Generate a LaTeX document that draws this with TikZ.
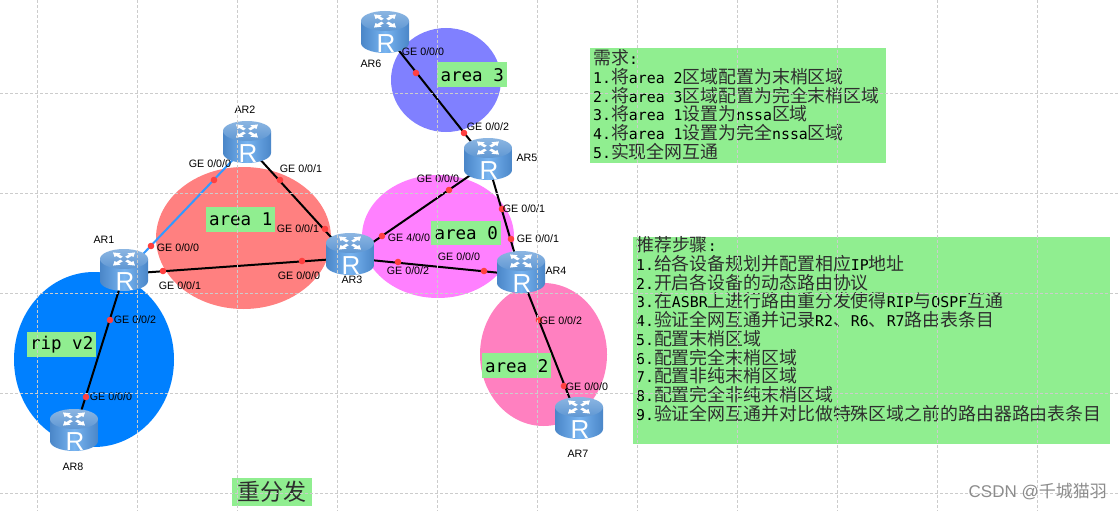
\documentclass[tikz,border=0pt]{standalone}
\usepackage{fontspec}
\setmainfont{Liberation Sans}
\newfontfamily\zhf{Noto Sans CJK SC}
\newfontfamily\monof{DejaVu Sans Mono}
\newcommand{\zh}[1]{{\color{black!82}\zhf\fontsize{17.9}{19}\selectfont #1}}
\newcommand{\msp}{\hspace*{8.94pt}}
\tikzset{
  x=1pt,y=-1pt,
  gridline/.style={draw=black!20,dash pattern=on 3pt off 2pt,line width=0.7pt},
  area/.style={ellipse,draw=none,inner sep=0pt},
  greenbox/.style={fill=boxgreen,draw=none,inner sep=0pt,anchor=north west},
  arealabel/.style={greenbox,font=\monof\fontsize{17.5}{19}\selectfont,align=center},
  listbox/.style={greenbox,font=\monof\fontsize{14.85}{18.75}\selectfont,align=left},
  routerbox/.style={circle,draw=none,inner sep=0pt,minimum size=0pt},
  link/.style={draw=black,line width=2pt},
  bluelink/.style={draw=linkblue,line width=2pt},
  portdot/.style={circle,fill=dotred,draw=none,inner sep=0pt,minimum size=6.6pt},
  portlabel/.style={font=\fontsize{10.7}{12}\selectfont,text=black,inner sep=0pt},
  routericon/.pic={
    \shade[left color=rdark,right color=rdark,middle color=rlight]
      (-24,-11) -- (-24,11) arc[start angle=180,end angle=0,x radius=24,y radius=10] -- (24,-11) -- cycle;
    \shade[top color=rtopa,bottom color=rtopb]
      (0,-11) ellipse[x radius=24,y radius=10];
    \foreach \a in {45,135,225,315}{
      \begin{scope}[shift={(0,-11)},yscale=0.6,rotate=\a]
        \fill[white] (3.5,-1.8) -- (9,-1.8) -- (9,-4.4) -- (15.5,0) -- (9,4.4) -- (9,1.8) -- (3.5,1.8) -- cycle;
      \end{scope}
    }
    \node[text=white,inner sep=0pt,font=\fontsize{26}{26}\selectfont] at (1,11.5) {R};
  }
}
\definecolor{boxgreen}{HTML}{90EE90}
\definecolor{dotred}{HTML}{FF4040}
\definecolor{linkblue}{HTML}{3399FF}
\definecolor{rdark}{HTML}{4A86C8}
\definecolor{rlight}{HTML}{78B4F0}
\definecolor{rtopa}{HTML}{8CB6E2}
\definecolor{rtopb}{HTML}{5F97D3}
\definecolor{areaone}{HTML}{FF8080}
\definecolor{ripblue}{HTML}{0080FF}
\definecolor{areathree}{HTML}{8080FF}
\definecolor{areazero}{HTML}{FF80FF}
\definecolor{areatwo}{HTML}{FF80C0}
\usetikzlibrary{shapes.geometric}
\begin{document}
\begin{tikzpicture}
\useasboundingbox (0,0) rectangle (1119,511);
\fill[white] (0,0) rectangle (1119,511);

% areas
\node[area,fill=areaone,minimum width=175pt,minimum height=142pt] (a1) at (243.5,238) {};
\node[area,fill=ripblue,minimum width=160pt,minimum height=175pt] (rip) at (94,359.5) {};
\node[area,fill=areathree,minimum width=110pt,minimum height=104pt] (a3) at (446,80) {};
\node[area,fill=areazero,minimum width=152pt,minimum height=123pt] (a0) at (438,236.5) {};
\node[area,fill=areatwo,minimum width=127pt,minimum height=143pt] (a2) at (543.5,354.5) {};

% routers (anchors)
\node[routerbox] (AR1) at (124,274) {};
\node[routerbox] (AR2) at (247,145) {};
\node[routerbox] (AR3) at (350,258) {};
\node[routerbox] (AR4) at (521,275) {};
\node[routerbox] (AR5) at (488,163) {};
\node[routerbox] (AR6) at (385,33) {};
\node[routerbox] (AR7) at (579,422) {};
\node[routerbox] (AR8) at (74,434) {};

% links
\draw[bluelink] (AR1.center) -- (AR2.center);
\draw[link] (AR1.center) -- (AR3.center);
\draw[link] (AR2.center) -- (AR3.center);
\draw[link] (AR1.center) -- (AR8.center);
\draw[link] (AR3.center) -- (AR4.center);
\draw[link] (AR3.center) -- (AR5.center);
\draw[link] (AR4.center) -- (AR5.center);
\draw[link] (AR5.center) -- (AR6.center);
\draw[link] (AR4.center) -- (AR7.center);

% router icons
\foreach \n/\xx/\yy in {AR1/124/270,AR2/247/142,AR3/350/254,AR4/521/272,AR5/488/159,AR6/385/32,AR7/579/418,AR8/74/430}{
  \pic at (\xx,\yy) {routericon};
}

% port dots
\foreach \i/\xx/\yy in {1/214/180,2/280/180,3/325/229,4/151/246,5/163/271,6/302/261,7/110/320,8/86/397,9/416/73,10/464/133,11/449/190,12/382/236,13/502/209,14/511/239,15/398/262,16/484/271,17/539/320,18/564/386}{
  \node[portdot] (d\i) at (\xx,\yy) {};
}

% port labels
\node[portlabel] (l1) at (210,164) {GE 0/0/0};
\node[portlabel] (l2) at (301,169) {GE 0/0/1};
\node[portlabel] (l3) at (298,229) {GE 0/0/1};
\node[portlabel] (l4) at (178,248) {GE 0/0/0};
\node[portlabel] (l5) at (180,286) {GE 0/0/1};
\node[portlabel] (l6) at (299,276) {GE 0/0/0};
\node[portlabel] (l7) at (135,320) {GE 0/0/2};
\node[portlabel] (l8) at (111,397) {GE 0/0/0};
\node[portlabel] (l9) at (423,52) {GE 0/0/0};
\node[portlabel] (l10) at (488,127) {GE 0/0/2};
\node[portlabel] (l11) at (438,179) {GE 0/0/0};
\node[portlabel] (l12) at (524,209) {GE 0/0/1};
\node[portlabel] (l13) at (538,239) {GE 0/0/1};
\node[portlabel] (l14) at (409,238) {GE 4/0/0};
\node[portlabel] (l15) at (408,271) {GE 0/0/2};
\node[portlabel] (l16) at (459,257) {GE 0/0/0};
\node[portlabel] (l17) at (561,321) {GE 0/0/2};
\node[portlabel] (l18) at (587,387) {GE 0/0/0};

% router names
\node[portlabel] (n1) at (104,240) {AR1};
\node[portlabel] (n2) at (245,110) {AR2};
\node[portlabel] (n3) at (352,280) {AR3};
\node[portlabel] (n4) at (556,271) {AR4};
\node[portlabel] (n5) at (527,158) {AR5};
\node[portlabel] (n6) at (371,64) {AR6};
\node[portlabel] (n7) at (578,454) {AR7};
\node[portlabel] (n8) at (73,467) {AR8};

% area labels
\node[arealabel,minimum width=69pt,minimum height=25pt] (t1) at (206,207) {area 1};
\node[arealabel,minimum width=70pt,minimum height=25pt] (t3) at (437,62) {area 3};
\node[arealabel,minimum width=70pt,minimum height=24pt] (t0) at (431,221) {area 0};
\node[arealabel,minimum width=69pt,minimum height=25pt] (t2) at (482,353) {area 2};
\node[arealabel,minimum width=69pt,minimum height=25pt] (trip) at (27,332) {rip v2};
\node[greenbox,minimum width=80pt,minimum height=28pt,align=center,text=black!82,font=\fontsize{23}{24}\selectfont\zhf] (redis) at (232,478) {重分发};

% text boxes
\fill[boxgreen] (590,48) rectangle (886,163);
\node[listbox,fill=none,text width=292pt,anchor=north west] (need) at (593,49.5) {%
\zh{需求}:\\
1.\zh{将}area\msp 2\zh{区域配置为末梢区域}\\
2.\zh{将}area\msp 3\zh{区域配置为完全末梢区域}\\
3.\zh{将}area\msp 1\zh{设置为}nssa\zh{区域}\\
4.\zh{将}area\msp 1\zh{设置为完全}nssa\zh{区域}\\
5.\zh{实现全网互通}};

\fill[boxgreen] (633,237) rectangle (1110,444);
\node[listbox,fill=none,text width=472pt,anchor=north west] (steps) at (636,236.5) {%
\zh{推荐步骤}:\\
1.\zh{给各设备规划并配置相应}IP\zh{地址}\\
2.\zh{开启各设备的动态路由协议}\\
3.\zh{在}ASBR\zh{上进行路由重分发使得}RIP\zh{与}OSPF\zh{互通}\\
4.\zh{验证全网互通并记录}R2\zh{、}R6\zh{、}R7\zh{路由表条目}\\
5.\zh{配置末梢区域}\\
6.\zh{配置完全末梢区域}\\
7.\zh{配置非纯末梢区域}\\
8.\zh{配置完全非纯末梢区域}\\
9.\zh{验证全网互通并对比做特殊区域之前的路由器路由表条目}};

% grid
\foreach \xx in {37,137,...,1037}{\draw[gridline] (\xx,0) -- (\xx,511);}
\foreach \yy in {93,193,293,393,493}{\draw[gridline] (0,\yy) -- (1119,\yy);}

% watermark
\node[inner sep=0pt,anchor=east,text=black!45,font=\fontsize{17}{18}\selectfont] (wm) at (1107,492) {CSDN @{\zhf 千城猫羽}};
\end{tikzpicture}
\end{document}
